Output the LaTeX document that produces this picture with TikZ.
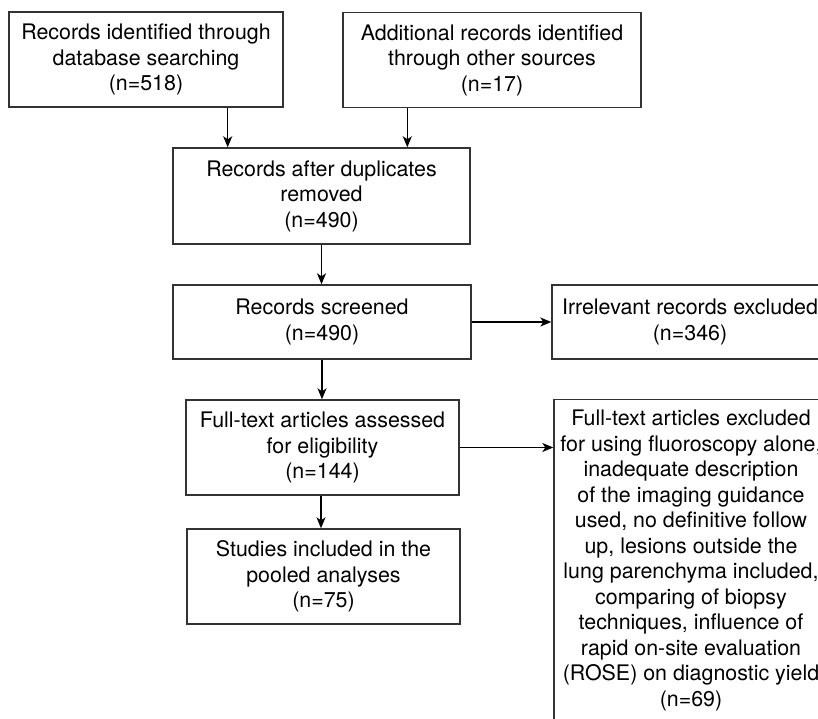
\documentclass[tikz,border=0pt]{standalone}
\usepackage{fontspec}
\setmainfont{TeX Gyre Heros}
\usetikzlibrary{arrows.meta}
\definecolor{edge}{HTML}{333333}
\tikzset{
  box/.style={draw=edge, line width=1.4pt, rectangle, align=center, inner sep=0pt,
    font=\fontsize{21.4}{25.5}\selectfont, text=black},
  arr/.style={draw=black, line width=1.4pt, -{Stealth[length=11pt,width=9pt,inset=3pt]}}
}
\begin{document}
\begin{tikzpicture}[x=1pt,y=1pt]
\useasboundingbox (0,0) rectangle (818,-719);
\fill[white] (0,0) rectangle (818,-719);
\node[box, minimum width=274pt, minimum height=95pt] (A) at (146,-59.5)
  {Records identified through\\database searching\\(n=518)};
\node[box, minimum width=298pt, minimum height=95pt] (B) at (492,-60)
  {Additional records identified\\through other sources\\(n=17)};
\node[box, minimum width=297pt, minimum height=96pt] (C) at (321.5,-196)
  {Records after duplicates\\removed\\(n=490)};
\node[box, minimum width=298pt, minimum height=74pt] (D) at (322,-322)
  {Records screened\\(n=490)};
\node[box, minimum width=276pt, minimum height=74pt] (E) at (690,-322)
  {Irrelevant records excluded\\(n=346)};
\node[box, minimum width=273pt, minimum height=95pt] (F) at (322.5,-447.5)
  {Full-text articles assessed\\for eligibility\\(n=144)};
\node[box, minimum width=273pt, minimum height=95pt] (G) at (323.5,-576.5)
  {Studies included in the\\pooled analyses\\(n=75)};
\node[box, minimum width=274pt, minimum height=322pt, anchor=north] (H) at (691,-399)
  {Full-text articles excluded\\for using fluoroscopy alone,\\inadequate description\\of the imaging guidance\\used, no definitive follow\\up, lesions outside the\\lung parenchyma included,\\comparing of biopsy\\techniques, influence of\\rapid on-site evaluation\\(ROSE) on diagnostic yield\\(n=69)};
\draw[arr] ([xshift=-56pt]A.south east) -- ([xshift=-56pt]A.south east |- C.north);
\draw[arr] ([xshift=65pt]B.south west) -- ([xshift=65pt]B.south west |- C.north);
\draw[arr] (C.south) -- (C.south |- D.north);
\draw[arr] (D.east) -- (D.east -| E.west);
\draw[arr] (D.south) -- (D.south |- F.north);
\draw[arr] (F.east) -- (F.east -| H.west);
\draw[arr] ([xshift=-1.5pt]F.south) -- ([xshift=-1.5pt]F.south |- G.north);
\end{tikzpicture}
\end{document}
